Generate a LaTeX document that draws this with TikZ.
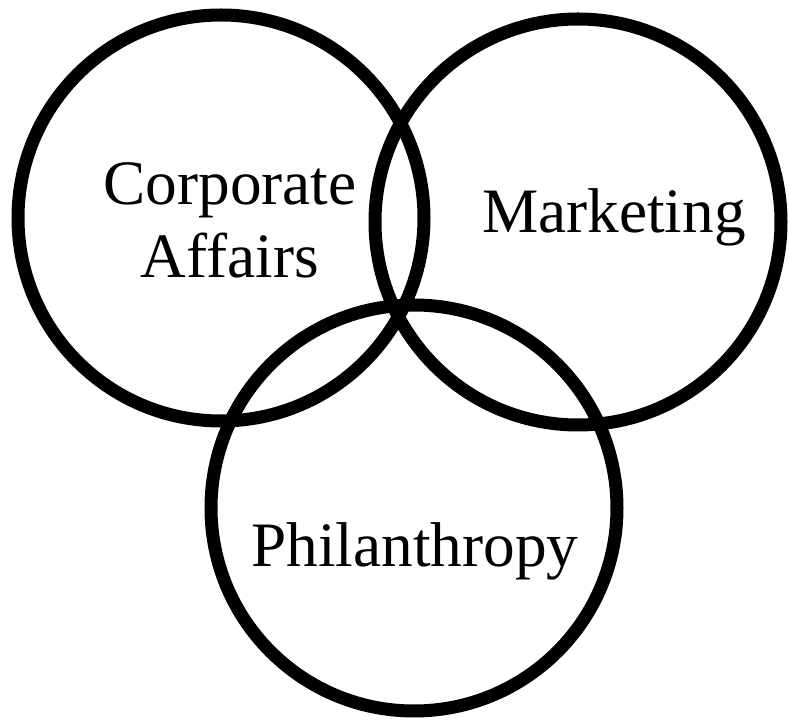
\documentclass[tikz,border=0pt]{standalone}
\usepackage{fontspec}
\setmainfont{Liberation Serif}
\usepackage{tikz}

\begin{document}
\begin{tikzpicture}[
ring/.style={draw,circle,line width=7.4pt,minimum size=8.12cm,inner sep=0pt},
lbl/.style={align=center,inner sep=0pt,font=\fontsize{36}{41.5}\selectfont}
]
\useasboundingbox (0,0) rectangle (15.78,14.4);
\node[ring] (corp) at (4.42,10.04) {};
\node[ring] (mkt) at (11.56,9.96) {};
\node[ring] (phil) at (8.28,4.24) {};
\node[lbl] (corptext) at (4.60,10.0) {Corporate\\Affairs};
\node[lbl,anchor=base] (mkttext) at (12.28,9.74) {Marketing};
\node[lbl,anchor=base] (philtext) at (8.30,3.06) {Philanthropy};
\end{tikzpicture}
\end{document}
